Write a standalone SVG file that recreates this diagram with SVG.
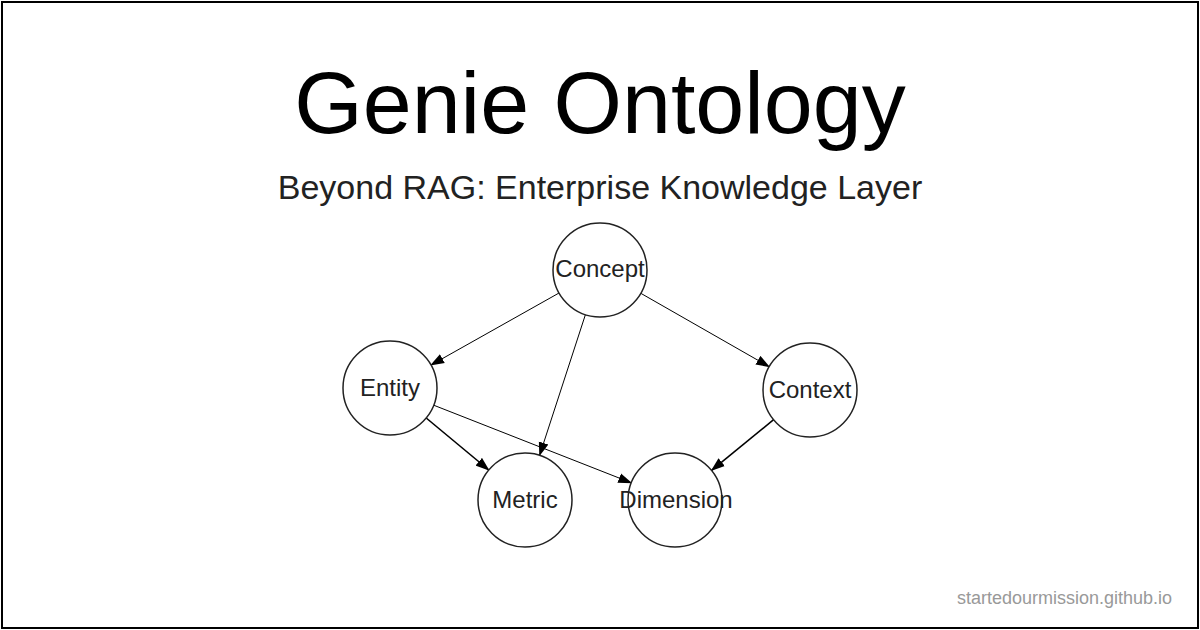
<svg xmlns="http://www.w3.org/2000/svg" width="1200" height="630" viewBox="0 0 1200 630">
<style>
text{font-family:"Liberation Sans",Arial,Helvetica,sans-serif;fill:#222}
.node circle{fill:#fff;stroke:#222;stroke-width:1.5}
.node text{font-size:24px;text-anchor:middle}
.edge{stroke:#000;stroke-width:1;fill:none;marker-end:url(#arrow)}
.thick{stroke-width:1.6}
</style>
<defs>
<marker id="arrow" markerUnits="userSpaceOnUse" markerWidth="14" markerHeight="11" refX="13" refY="5" orient="auto" viewBox="0 0 14 10">
<path d="M0,0 L14,5 L0,10 z" fill="#000"/>
</marker>
</defs>
<rect x="0" y="0" width="1200" height="630" fill="#fff"/>
<rect x="2" y="2" width="1196" height="626" fill="none" stroke="#000" stroke-width="2"/>
<text x="600" y="133" font-size="88" text-anchor="middle" fill="#000" style="fill:#000">Genie Ontology</text>
<text x="600" y="199" font-size="34" text-anchor="middle">Beyond RAG: Enterprise Knowledge Layer</text>
<g id="connectors">
<line class="edge" x1="559" y1="293" x2="431" y2="365"/>
<line class="edge" x1="585.4" y1="314.7" x2="539.6" y2="455.3"/>
<line class="edge" x1="640.8" y1="293.3" x2="769.2" y2="366.7"/>
<line class="edge thick" x1="426.2" y1="418" x2="488.8" y2="470"/>
<line class="edge" x1="433.7" y1="405.2" x2="631.3" y2="482.8"/>
<line class="edge thick" x1="773.6" y1="419.7" x2="711.6" y2="470.3"/>
</g>
<g id="node-concept" class="node"><circle cx="600" cy="270" r="47"/><text x="600" y="277">Concept</text></g>
<g id="node-entity" class="node"><circle cx="390" cy="388" r="47"/><text x="390" y="396">Entity</text></g>
<g id="node-context" class="node"><circle cx="810" cy="390" r="47"/><text x="810" y="398">Context</text></g>
<g id="node-metric" class="node"><circle cx="525" cy="500" r="47"/><text x="525" y="508">Metric</text></g>
<g id="node-dimension" class="node"><circle cx="675" cy="500" r="47"/><text x="676" y="508">Dimension</text></g>
<text x="1172" y="604" font-size="18" text-anchor="end" style="fill:#999">startedourmission.github.io</text>
</svg>
